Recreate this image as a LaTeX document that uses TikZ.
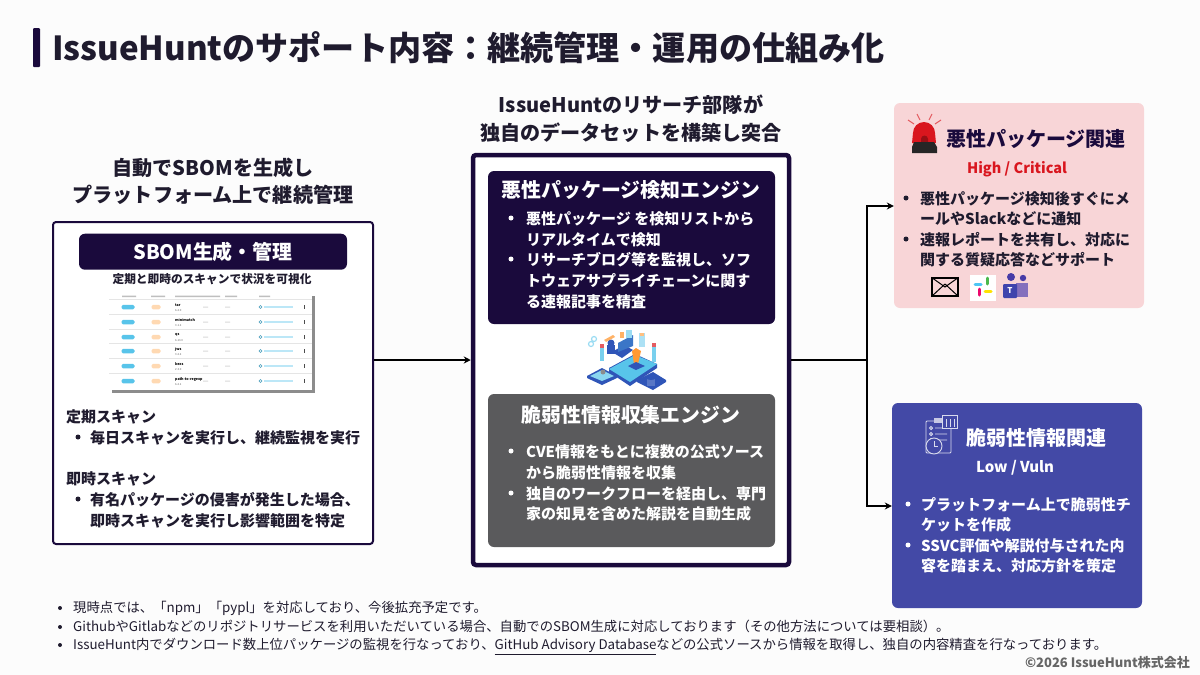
\documentclass[tikz,border=0pt]{standalone}
\usepackage{fontspec}
\setmainfont{Noto Sans CJK JP}
\usetikzlibrary{arrows.meta,positioning}
\definecolor{navy}{HTML}{1A0A3C}
\definecolor{inkc}{HTML}{1F1B2E}
\definecolor{grayc}{HTML}{5A5A5C}
\definecolor{pinkc}{HTML}{F8D5D7}
\definecolor{bluec}{HTML}{4349A6}
\definecolor{redc}{HTML}{D9161E}
\definecolor{isoa}{HTML}{2F55B8}
\definecolor{isob}{HTML}{58C4EA}
\tikzset{
  box/.style={draw=navy, rounded corners=3pt, fill=white},
  band/.style={rounded corners=6pt, inner sep=0pt},
  head/.style={font=\bfseries\fontsize{20.1}{22}\selectfont, text=inkc, inner sep=0pt},
  ttl/.style={font=\bfseries\fontsize{19.9}{22}\selectfont, text=white, inner sep=0pt, yshift=-.7pt},
  line/.style={font=\bfseries\fontsize{15}{17}\selectfont, anchor=west, inner sep=0pt, yshift=-.7pt},
  note/.style={font=\fontsize{13.35}{15}\selectfont, anchor=west, inner sep=0pt, text=inkc, text height=11.5pt, text depth=2pt},
  dot/.style={circle, fill=#1, inner sep=0pt, minimum size=5pt},
  flow/.style={draw=black, line width=1.6pt},
  tipflow/.style={flow, -{Stealth[length=7pt,width=7pt]}}
}
\begin{document}
\begin{tikzpicture}[x=1pt,y=-1pt]
\useasboundingbox (0,0) rectangle (1200,675);
\fill[white!99!black] (0,0) rectangle (1200,675);

% title
\node (bar) at (36.5,47.5) [fill=navy, rounded corners=1pt, minimum width=7pt, minimum height=39pt, inner sep=0pt] {};
\node (title) at (52,48) [anchor=west, inner sep=0pt, text=inkc, font=\bfseries\fontsize{33.1}{35}\selectfont] {IssueHuntのサポート内容：継続管理・運用の仕組み化};

% left column
\node (lefta) at (213,168) [head] {自動でSBOMを生成し};
\node (leftb) at (213,195) [head] {プラットフォーム上で継続管理};
\node (sbombox) at (213,383) [box, line width=2pt, minimum width=320pt, minimum height=322pt] {};
\node (sbomband) at (213,251) [band, fill=navy, minimum width=268pt, minimum height=36pt, ttl] {SBOM生成・管理};
\node (sbomsub) at (212,279) [inner sep=0pt, text=inkc, font=\bfseries\fontsize{11.7}{13}\selectfont] {定期と即時のスキャンで状況を可視化};

% scan table
\fill[black!45] (112,296) rectangle (315,393);
\fill[white] (109,293) rectangle (312,390);
\fill[black!25] (122,295.5) rectangle (136,297) (151,295.5) rectangle (165,297) (175,295.5) rectangle (220,297) (225,295.5) rectangle (237,297) (259,295.5) rectangle (270,297);
\foreach \y/\n/\v in {307/tar/6.2.0,322/minimatch/3.1.2,337/qs/6.13.0,351/jws/3.2.2,366/kexs/2.3.0,381/path-to-regexp/6.2.1}
{
  \draw[black!10, line width=.4pt] (109,\y-7.5) -- (312,\y-7.5);
  \node (pill\y) at (128,\y) [fill=isob, rounded corners=1.5pt, minimum width=13pt, minimum height=4.5pt, inner sep=0pt] {};
  \node (sev\y) at (156,\y) [fill=orange!30, rounded corners=1.5pt, minimum width=9pt, minimum height=4.5pt, inner sep=0pt] {};
  \node (pkg\y) at (175,\y-2) [anchor=west, inner sep=0pt, font=\bfseries\fontsize{3.6}{4}\selectfont] {\n};
  \node (ver\y) at (175,\y+3) [anchor=west, inner sep=0pt, text=black!60, font=\fontsize{2.8}{3}\selectfont] {\v};
  \node (src\y) at (260.5,\y) [circle, draw=isob!80!black, line width=.6pt, inner sep=0pt, minimum size=3pt] {};
  \fill[isob!40] (264,\y-.6) rectangle (293,\y+.6);
  \fill[black!15] (203,\y-.5) rectangle (208,\y+.5) (225,\y-.5) rectangle (230,\y+.5);
  \fill[black!70] (304,\y-1.6) rectangle (305,\y+1.6);
}

\node (teiki) at (66,416) [line, text=inkc] {定期スキャン};
\node (sokuji) at (66,478) [line, text=inkc] {即時スキャン};
\foreach \y in {437,499} { \node (ld\y) at (78,\y) [dot=inkc] {}; }
\foreach \y/\t in {437/毎日スキャンを実行し、継続監視を実行,499/有名パッケージの侵害が発生した場合、,520/即時スキャンを実行し影響範囲を特定}
{ \node (lt\y) at (90,\y) [line, text=inkc] {\t}; }

% centre column
\node (cena) at (631,105) [head] {IssueHuntのリサーチ部隊が};
\node (cenb) at (631,133) [head] {独自のデータセットを構築し突合};
\node (corebox) at (631,360) [box, line width=4.5pt, minimum width=316pt, minimum height=410pt] {};
\node (malbox) at (631.5,247.5) [band, fill=navy, minimum width=287pt, minimum height=153pt] {};
\node (vulbox) at (631.5,470.5) [band, fill=grayc, minimum width=287pt, minimum height=153pt] {};
\node (maltitle) at (631,189) [ttl] {悪性パッケージ検知エンジン};
\node (vultitle) at (631,414) [ttl] {脆弱性情報収集エンジン};
\foreach \y in {218,259} { \node (md\y) at (511,\y) [dot=white] {}; }
\foreach \y/\t in {218/悪性パッケージ を検知リストから,239/リアルタイムで検知,259/リサーチブログ等を監視し、ソフ,280/トウェアサプライチェーンに関す,301/る速報記事を精査}
{ \node (mt\y) at (526,\y) [line, text=white] {\t}; }
\foreach \y in {451,493} { \node (vd\y) at (511,\y) [dot=white] {}; }
\foreach \y/\t in {451/CVE情報をもとに複数の公式ソース,472/から脆弱性情報を収集,493/独自のワークフローを経由し、専門,513/家の知見を含めた解説を自動生成}
{ \node (vt\y) at (526,\y) [line, text=white] {\t}; }

% iso graphic
\fill[isoa] (602,385) -- (587,378) -- (587,376) -- (602,368) -- (617,376) -- (617,378) -- cycle;
\fill[isoa] (653,390) -- (637,382) -- (637,380) -- (653,372) -- (666,380) -- (666,382) -- cycle;
\fill[isoa] (630,386) -- (609,372) -- (609,368) -- (635,354) -- (657,364) -- (657,368) -- cycle;
\fill[isob] (630,382) -- (609,369) -- (635,355) -- (657,364) -- cycle;
\fill[isob!70] (602,381) -- (590,376) -- (602,370) -- (614,376) -- cycle;
\fill[isoa] (622,358) -- (612,352) -- (624,345) -- (633,350) -- cycle;
\fill[isoa!70!isob] (618,352) -- (618,343) -- (633,335) -- (633,346) -- cycle;
\fill[isoa] (611,343) circle (3.5pt);
\fill[isoa] (607,345) rectangle (615,354);
\fill[orange!80] (636,348) -- (641,351) -- (638,364) -- (634,364) -- (632,351) -- cycle;
\fill[isoa] (636,370) -- (628,366) -- (636,362) -- (645,366) -- cycle;
\fill[isob!80] (600,347) rectangle (604,361);
\fill[redc!70] (600,344) rectangle (604,348);
\fill[isob!80] (652,346) rectangle (656,362);
\fill[redc!70] (652,343) rectangle (656,347);
\fill[isob!50] (639,333) rectangle (645,347);
\fill[orange!50] (640,333) rectangle (644,336);
\fill[orange!60] (604,340) -- (613,335) -- (615,337) -- (606,342) -- cycle;
\fill[orange!60] (620,332) rectangle (624,338);
\fill[isob!60] (626,330) rectangle (632,338);
\draw[isob!60, line width=1.2pt] (591,344) circle (2.5pt) (594,339) circle (2.5pt);
\fill[isoa!80] (647,378) rectangle (655,386);
\fill[isoa] (651,378) ellipse (4.5pt and 2pt);
\fill[black!45] (603,372) circle (2.5pt);

% right boxes
\node (redbox) at (1019,205.5) [band, fill=pinkc, minimum width=250pt, minimum height=205pt] {};
\node (bluebox) at (1017,505.5) [band, fill=bluec, minimum width=250pt, minimum height=205pt] {};

% siren
\draw[redc!70, line width=1pt] (908,120) -- (914,124) (917,114) -- (920,120) (932,114) -- (929,120) (941,120) -- (935,124);
\fill[redc] (912,143) -- (913,133) arc (180:0:11pt) -- (936,143) -- cycle;
\fill[redc!70!black] (921,143) -- (921,139) arc (180:0:3.5pt) -- (928,143) -- cycle;
\fill[black!85] (914,142) -- (934,142) -- (937,147) -- (937,153) -- (912,153) -- (912,147) -- cycle;
\node (redtitle) at (946,139) [anchor=west, inner sep=0pt, text=navy, font=\bfseries\fontsize{20}{22}\selectfont] {悪性パッケージ関連};
\node (redsev) at (1017,169) [inner sep=0pt, text=redc, font=\bfseries\fontsize{14.5}{16}\selectfont] {High / Critical};
\foreach \y in {198,239} { \node (rd\y) at (906,\y) [dot=inkc] {}; }
\foreach \y/\t in {198/悪性パッケージ検知後すぐにメ,218/ールやSlackなどに通知,239/速報レポートを共有し、対応に,259/関する質疑応答などサポート}
{ \node (rt\y) at (920,\y) [line, text=inkc] {\t}; }

% mail, slack, teams
\node (mail) at (945,287) [draw=black, line width=1.4pt, minimum width=26pt, minimum height=18pt, inner sep=0pt] {};
\draw[black, line width=1pt] (mail.north west) -- (mail.center) -- (mail.north east) (mail.south west) -- (945,284) (mail.south east) -- (945,284);
\node (slack) at (983,288) [fill=white, minimum size=26pt, inner sep=0pt] {};
\draw[line cap=round, line width=3pt, color=cyan!70] (975,284) -- (981,284);
\draw[line cap=round, line width=3pt, color=green!60!black!70] (987,278) -- (987,284);
\draw[line cap=round, line width=3pt, color=yellow!85!orange] (985,291) -- (991,291);
\draw[line cap=round, line width=3pt, color=magenta!70!red] (979,289) -- (979,295);
\fill[isoa!70!violet] (1011,277) circle (4pt) (1023,278) circle (3.2pt);
\fill[isoa!60!violet!70] (1016,283) rectangle (1028,297);
\node (teams) at (1010,291) [fill=isoa!80!violet, rounded corners=1pt, minimum size=14pt, inner sep=0pt, text=white, font=\bfseries\fontsize{8}{8}\selectfont] {T};

% checklist
\draw[white!80!bluec, line width=.9pt, rounded corners=1pt] (926,421) rectangle (951,453);
\fill[white!70!bluec] (934,418) rectangle (944,423);
\foreach \y in {428,434,440} { \draw[white!80!bluec, line width=.9pt] (931,\y) circle (1.6pt) (935,\y) -- (947,\y); }
\node (cal) at (950,422) [draw=white!80!bluec, fill=bluec, line width=.9pt, minimum width=15pt, minimum height=13pt, inner sep=0pt] {};
\foreach \x in {946,950,954} { \draw[white!80!bluec, line width=.9pt] (\x,419) -- (\x,427); }
\node (clock) at (934,446) [draw=white!80!bluec, fill=bluec, circle, line width=.9pt, minimum size=16pt, inner sep=0pt] {};
\draw[white!80!bluec, line width=.9pt] (clock.center) -- (934,441) (clock.center) -- (938,446);

\node (bluetitle) at (966,438) [anchor=west, inner sep=0pt, text=white, font=\bfseries\fontsize{20}{22}\selectfont] {脆弱性情報関連};
\node (bluesev) at (1015,468) [inner sep=0pt, text=white, font=\bfseries\fontsize{15}{17}\selectfont] {Low / Vuln};
\foreach \y in {504,545} { \node (bd\y) at (908,\y) [dot=white] {}; }
\foreach \y/\t in {504/プラットフォーム上で脆弱性チ,524/ケットを作成,545/SSVC評価や解説付与された内,565/容を踏まえ、対応方針を策定}
{ \node (bt\y) at (921,\y) [line, text=white] {\t}; }

% connectors
\coordinate (split) at (867,360);
\draw[tipflow] (sbombox.east |- split) -- (corebox.west |- split);
\draw[flow] (corebox.east |- split) -- (split);
\draw[tipflow] (split) |- (redbox.west |- 0,206);
\draw[tipflow] (split) |- (bluebox.west |- 0,506);

% notes
\foreach \y in {608,627,645} { \node (nd\y) at (60,\y) [dot=inkc, minimum size=4pt] {}; }
\node (n608) at (73,608) [note] {現時点では、「npm」「pypl」を対応しており、今後拡充予定です。};
\node (n627) at (73,627) [note] {GithubやGitlabなどのリポジトリサービスを利用いただいている場合、自動でのSBOM生成に対応しております（その他方法については要相談）。};
\node (n645) at (73,645) [note] {IssueHunt内でダウンロード数上位パッケージの監視を行なっており、\underline{GitHub Advisory Database}などの公式ソースから情報を取得し、独自の内容精査を行なっております。};
\node (copy) at (1190,663) [anchor=east, inner sep=0pt, text=black!60, font=\bfseries\fontsize{13}{15}\selectfont] {©2026 IssueHunt株式会社};
\end{tikzpicture}
\end{document}
